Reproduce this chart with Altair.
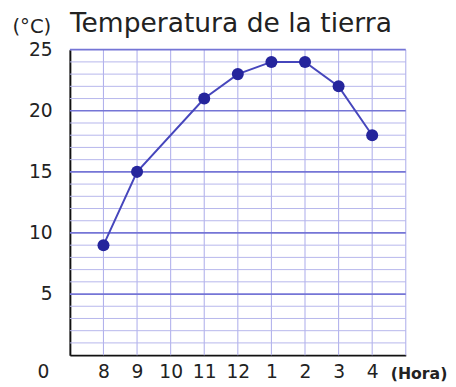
import altair as alt
import pandas as pd

# data
hours = [8, 9, 11, 12, 13, 14, 15, 16]          # 13..16 = 1..4 pm
temps = [9, 15, 21, 23, 24, 24, 22, 18]
x_ticks = [8, 9, 10, 11, 12, 13, 14, 15, 16]
y_labels = [5, 10, 15, 20, 25]
minor_y = [v for v in range(1, 25) if v % 5 != 0]
major_y = [5, 10, 15, 20, 25]
vert_x = [8, 9, 10, 11, 12, 13, 14, 15, 16, 17]
zero_label = [0]

W, H = 342, 311
FONT = "DejaVu Sans"
xs = alt.Scale(domain=[7, 17], nice=False, zero=False)
ys = alt.Scale(domain=[0, 25], nice=False)

x_axis = alt.Axis(
    values=x_ticks,
    labelExpr="datum.value > 12 ? datum.value - 12 : datum.value",
    grid=False,
    ticks=False,
    labelPadding=8,
    labelFont=FONT,
    labelFontSize=19,
    labelColor="#222222",
    labelBaseline="top",
    domainColor="#111111",
    domainWidth=2,
    title="(Hora)",
    titleFont=FONT,
    titleFontSize=16,
    titleFontWeight="bold",
    titleColor="#222222",
    titleX=W + 13,
    titleY=24,
    titleAlign="center",
    titleBaseline="alphabetic",
)
y_axis = alt.Axis(
    values=y_labels,
    grid=False,
    ticks=False,
    labelPadding=18,
    labelFont=FONT,
    labelFontSize=19,
    labelColor="#222222",
    domainColor="#111111",
    domainWidth=2,
    title="(°C)",
    titleFont=FONT,
    titleFontSize=20,
    titleFontWeight="normal",
    titleColor="#222222",
    titleAngle=0,
    titleX=-59,
    titleY=-17,
    titleAlign="left",
    titleBaseline="alphabetic",
)

X = alt.X("h:Q", scale=xs, axis=x_axis)
Y = alt.Y("t:Q", scale=ys, axis=y_axis)

df = pd.DataFrame({"h": hours, "t": temps})

vert = alt.Chart(pd.DataFrame({"h": vert_x})).mark_rule(
    color="#b2b2ec", strokeWidth=1.1
).encode(x=X)

minor = alt.Chart(pd.DataFrame({"t": minor_y})).mark_rule(
    color="#b6b6ec", strokeWidth=1
).encode(y=Y)

major = alt.Chart(pd.DataFrame({"t": major_y})).mark_rule(
    color="#7575d6", strokeWidth=1.7
).encode(y=Y)

base = alt.Chart(df).encode(x=X, y=Y)
line = base.mark_line(color="#4646bc", strokeWidth=2)
pts = base.mark_circle(color="#25259c", size=150, opacity=1)

zero = alt.Chart(pd.DataFrame({"t": zero_label})).mark_text(
    font=FONT, fontSize=19, color="#222222", align="right", baseline="middle",
    dx=-21, dy=17
).encode(
    x=alt.value(0),
    y=Y,
    text=alt.Text("t:Q"),
)

chart = alt.layer(vert, minor, major, line, pts, zero).properties(
    width=W,
    height=H,
    title=alt.TitleParams(
        "Temperatura de la tierra",
        anchor="start",
        frame="group",
        font=FONT,
        fontSize=27,
        fontWeight="normal",
        color="#222222",
        offset=10,
        dy=31,
    ),
    background="white",
    autosize=alt.AutoSizeParams(type="none"),
    padding={"left": 63, "top": 39, "right": 43, "bottom": 29},
).configure_view(stroke=None)

chart.save("out.html", embed_options={"renderer": "svg", "actions": False})
